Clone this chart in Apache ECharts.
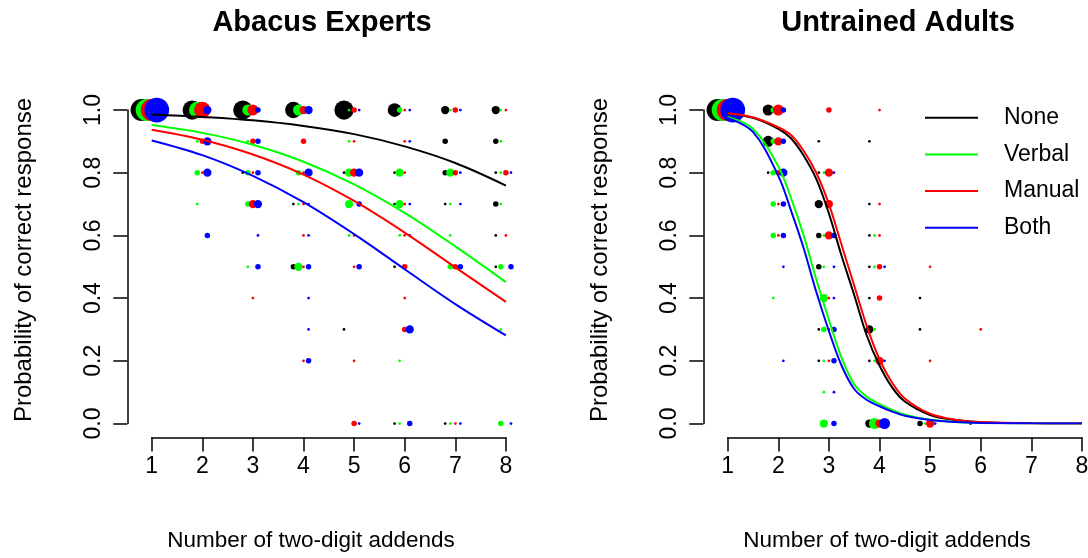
<!DOCTYPE html>
<html>
<head>
<meta charset="utf-8">
<script src="https://cdn.jsdelivr.net/npm/echarts@6/dist/echarts.min.js"></script>
<style>
html,body{margin:0;padding:0;background:#fff;}
#chart{width:1088px;height:558px;}
</style>
</head>
<body>
<div id="chart"></div>
<script>
// ---- data ----
const xTicks = [1, 2, 3, 4, 5, 6, 7, 8];
const yTickLabels = ['0.0', '0.2', '0.4', '0.6', '0.8', '1.0'];
const groupNames = ['None', 'Verbal', 'Manual', 'Both'];
const panelTitles = ['Abacus Experts', 'Untrained Adults'];
const xLabel = 'Number of two-digit addends';
const yLabel = 'Probability of correct response';

// points: [addends, proportion correct, count]
const expNone = [[1,1,8],[2,1,7],[3,1,7],[3,0.8,1],[4,1,6],[4,0.7,1],[4,0.5,2],[5,1,7],[5,0.8,1],[5,0.3,1],[6,1,5],[6,0.8,1],[6,0.7,1],[6,0.5,1],[6,0,1],[7,1,3],[7,0.9,2],[7,0.8,2],[7,0.7,1],[7,0,1],[8,1,3],[8,0.9,2],[8,0.8,1],[8,0.7,2],[8,0.6,1],[8,0.5,1]];
const expVerbal = [[1,1,8],[2,1,6],[2,0.9,1],[2,0.8,2],[2,0.7,1],[3,1,4],[3,0.9,1],[3,0.8,2],[3,0.7,2],[3,0.5,1],[4,1,4],[4,0.8,2],[4,0.7,1],[4,0.5,3],[5,1,1],[5,0.9,1],[5,0.8,3],[5,0.7,3],[5,0.6,1],[6,1,2],[6,0.8,3],[6,0.7,3],[6,0.6,1],[6,0.2,1],[6,0,1],[7,1,1],[7,0.8,3],[7,0.7,1],[7,0.6,1],[7,0.5,2],[7,0,1],[8,1,1],[8,0.9,1],[8,0.8,1],[8,0.7,1],[8,0.5,2],[8,0.3,1],[8,0,2]];
const expManual = [[1,1,8],[2,1,6],[2,0.9,2],[2,0.8,1],[3,1,4],[3,0.9,2],[3,0.8,1],[3,0.7,3],[3,0.4,1],[4,1,3],[4,0.9,2],[4,0.8,1],[4,0.7,1],[4,0.6,1],[4,0.5,1],[4,0.2,1],[5,1,2],[5,0.9,1],[5,0.8,3],[5,0.6,1],[5,0.5,1],[5,0.2,1],[5,0,2],[6,1,1],[6,0.9,1],[6,0.8,1],[6,0.7,1],[6,0.6,1],[6,0.5,2],[6,0.4,1],[6,0.3,2],[7,1,2],[7,0.8,2],[7,0.5,2],[7,0,1],[8,1,1],[8,0.8,2],[8,0.6,1]];
const expBoth = [[1,1,9],[2,1,3],[2,0.9,3],[2,0.8,3],[2,0.6,2],[3,1,2],[3,0.9,2],[3,0.8,2],[3,0.7,3],[3,0.6,1],[3,0.5,2],[4,1,3],[4,0.8,3],[4,0.7,1],[4,0.6,1],[4,0.5,2],[4,0.4,1],[4,0.3,1],[4,0.2,2],[5,1,1],[5,0.8,3],[5,0.7,2],[5,0.5,2],[5,0,1],[6,1,1],[6,0.9,1],[6,0.7,1],[6,0.6,1],[6,0.3,3],[6,0,2],[7,1,1],[7,0.8,1],[7,0.7,1],[7,0.5,2],[7,0,1],[8,0.8,1],[8,0.5,2],[8,0,1]];

const untNone = [[1,1,8],[2,1,4],[2,0.9,4],[2,0.8,1],[3,0.9,1],[3,0.8,1],[3,0.7,3],[3,0.6,2],[3,0.5,2],[3,0.3,1],[3,0.2,1],[4,0.9,1],[4,0.7,1],[4,0.6,1],[4,0.5,1],[4,0.4,1],[4,0.3,3],[4,0.2,1],[4,0,3],[5,0.4,1],[5,0.3,1],[5,0,2],[6,0,1]];
const untVerbal = [[1,1,8],[2,1,2],[2,0.9,2],[2,0.8,2],[2,0.7,2],[2,0.6,2],[2,0.4,1],[3,0.8,1],[3,0.6,1],[3,0.5,1],[3,0.4,3],[3,0.3,2],[3,0.2,1],[3,0.1,1],[3,0,3],[4,0.6,1],[4,0.5,1],[4,0.3,1],[4,0.2,1],[4,0,4],[5,0,1]];
const untManual = [[1,1,8],[2,1,4],[2,0.9,3],[2,0.8,2],[2,0.7,1],[2,0.6,1],[3,1,2],[3,0.8,3],[3,0.7,3],[3,0.6,3],[3,0.4,1],[3,0.3,1],[3,0.2,1],[4,1,1],[4,0.7,1],[4,0.6,1],[4,0.5,2],[4,0.4,2],[4,0.2,3],[4,0,3],[5,0.5,1],[5,0.2,1],[5,0,3],[6,0.3,1]];
const untBoth = [[1,1,9],[2,1,2],[2,0.9,2],[2,0.8,3],[2,0.7,2],[2,0.6,2],[2,0.5,1],[2,0.2,1],[3,0.8,1],[3,0.6,2],[3,0.5,1],[3,0.4,1],[3,0.3,2],[3,0.2,2],[3,0.1,1],[3,0,2],[4,0.5,1],[4,0.2,1],[4,0,4],[5,0,1]];

// fitted curves
const expCurveX = [1, 2, 3, 4, 5, 6, 7, 8];
const expCurveNone   = [0.986, 0.978, 0.967, 0.949, 0.923, 0.884, 0.831, 0.759];
const expCurveVerbal = [0.952, 0.927, 0.889, 0.835, 0.763, 0.672, 0.565, 0.451];
const expCurveManual = [0.937, 0.905, 0.858, 0.794, 0.710, 0.609, 0.498, 0.388];
const expCurveBoth   = [0.903, 0.856, 0.790, 0.706, 0.604, 0.492, 0.381, 0.281];

const untCurveX = [1, 1.5, 2, 2.25, 2.5, 2.75, 3, 3.25, 3.5, 3.75, 4, 4.25, 4.5, 5, 5.5, 6, 7, 8];
const untCurveNone   = [0.99, 0.975, 0.94, 0.91, 0.855, 0.78, 0.67, 0.535, 0.41, 0.28, 0.185, 0.115, 0.07, 0.027, 0.011, 0.004, 0.0006, 0.0001];
const untCurveVerbal = [0.978, 0.94, 0.82, 0.72, 0.60, 0.46, 0.33, 0.21, 0.125, 0.085, 0.062, 0.043, 0.028, 0.012, 0.005, 0.002, 0.0005, 0.0001];
const untCurveManual = [0.99, 0.977, 0.945, 0.92, 0.87, 0.80, 0.70, 0.57, 0.44, 0.31, 0.205, 0.13, 0.08, 0.031, 0.012, 0.0045, 0.0007, 0.0001];
const untCurveBoth   = [0.975, 0.93, 0.79, 0.68, 0.56, 0.42, 0.295, 0.185, 0.11, 0.075, 0.055, 0.038, 0.025, 0.011, 0.0045, 0.0018, 0.0004, 0.0001];

// ---- style / layout ----
const FONT = '"Liberation Sans", Arial, Helvetica, sans-serif';
const colors = ['#000000', '#00ff00', '#ff0000', '#0000ff'];
const dx = [-0.2, -0.1, 0, 0.1];
const UNIT = 2.75;
const panelShift = 576;
const gridLeft = 151.7, gridTop = 110, gridW = 354.2, gridH = 313.5;

const panelPoints = [[expNone, expVerbal, expManual, expBoth], [untNone, untVerbal, untManual, untBoth]];
const panelCurveX = [expCurveX, untCurveX];
const panelCurves = [[expCurveNone, expCurveVerbal, expCurveManual, expCurveBoth], [untCurveNone, untCurveVerbal, untCurveManual, untCurveBoth]];

const grids = [], xAxes = [], yAxes = [], series = [], graphics = [];
for (let p = 0; p < 2; p++) {
  grids.push({left: gridLeft + p * panelShift, top: gridTop, width: gridW, height: gridH, containLabel: false, outerBoundsMode: 'none'});
  xAxes.push({
    gridIndex: p, type: 'value', min: xTicks[0], max: xTicks[xTicks.length - 1], interval: 1,
    offset: 14, position: 'bottom',
    axisLine: {show: true, onZero: false, lineStyle: {color: '#000', width: 1.5}},
    axisTick: {show: true, length: 14, lineStyle: {color: '#000', width: 1.5}},
    axisLabel: {show: true, color: '#000', fontSize: 23, fontFamily: FONT, margin: 18, showMinLabel: true, showMaxLabel: true},
    splitLine: {show: false}
  });
  yAxes.push({
    gridIndex: p, type: 'value', min: 0, max: 1, interval: 0.2,
    offset: 24.4, position: 'left',
    axisLine: {show: true, onZero: false, lineStyle: {color: '#000', width: 1.5}},
    axisTick: {show: true, length: 14, lineStyle: {color: '#000', width: 1.5}},
    axisLabel: {show: true, color: '#000', fontSize: 23, fontFamily: FONT, margin: 22, rotate: 90,
      formatter: v => yTickLabels[Math.round(v / 0.2)], showMinLabel: true, showMaxLabel: true},
    splitLine: {show: false}
  });
  for (let g = 0; g < 4; g++) {
    series.push({
      type: 'scatter', name: groupNames[g] + ' points', xAxisIndex: p, yAxisIndex: p,
      data: panelPoints[p][g].map(d => [d[0] + dx[g], d[1], d[2]]),
      symbol: 'circle', symbolSize: v => v[2] * UNIT,
      itemStyle: {color: colors[g], opacity: 1}, clip: false, z: 2 + g, silent: true
    });
  }
  for (let g = 0; g < 4; g++) {
    series.push({
      type: 'line', name: groupNames[g], xAxisIndex: p, yAxisIndex: p,
      data: panelCurveX[p].map((x, i) => [x, panelCurves[p][g][i]]),
      smooth: 0.35, symbol: 'none', showSymbol: false,
      lineStyle: {color: colors[g], width: 2}, itemStyle: {color: colors[g]},
      z: 10 + g, clip: true, silent: true
    });
  }
  const cx = p * panelShift;
  graphics.push({type: 'text', x: 322 + cx, y: 23, style: {text: panelTitles[p], font: 'bold 29px ' + FONT, fill: '#000', align: 'center', verticalAlign: 'middle'}});
  graphics.push({type: 'text', x: 311 + cx, y: 541, style: {text: xLabel, font: '22.5px ' + FONT, fill: '#000', align: 'center', verticalAlign: 'middle'}});
  graphics.push({type: 'text', x: 24 + cx, y: 260, rotation: Math.PI / 2, style: {text: yLabel, font: '24px ' + FONT, fill: '#000', align: 'center', verticalAlign: 'middle'}});
}

const chart = echarts.init(document.getElementById('chart'), null, {renderer: 'canvas'});
chart.setOption({
  backgroundColor: '#ffffff',
  animation: false,
  textStyle: {fontFamily: FONT},
  grid: grids, xAxis: xAxes, yAxis: yAxes, series: series,
  legend: {
    data: groupNames, orient: 'vertical', left: 925, top: 104.7,
    icon: 'path://M0,0 L53,0 L53,2 L0,2 Z', symbolKeepAspect: true,
    itemWidth: 53, itemHeight: 26, itemGap: 10.7, padding: 0,
    selectedMode: false,
    textStyle: {fontSize: 23, fontFamily: FONT, color: '#000', lineHeight: 26, padding: [0, 0, 0, 21]}
  },
  graphic: graphics
});
</script>
</body>
</html>
